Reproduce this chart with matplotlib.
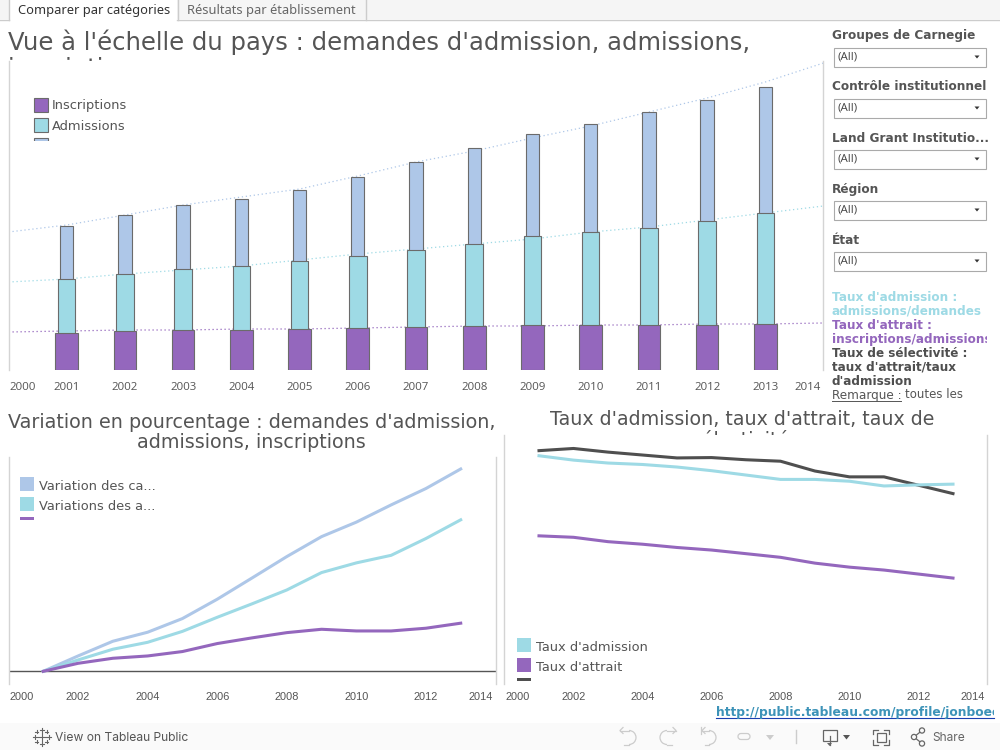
import matplotlib
matplotlib.use('Agg')
from matplotlib import pyplot as plt
from matplotlib.patches import Rectangle, Arc, Circle, FancyBboxPatch
from matplotlib.transforms import Bbox, TransformedBbox

years = [2001, 2002, 2003, 2004, 2005, 2006, 2007, 2008, 2009, 2010, 2011, 2012, 2013]
trend_years = [2000, 2001, 2002, 2003, 2004, 2005, 2006, 2007, 2008, 2009, 2010, 2011, 2012, 2013, 2014]

# haut : valeurs absolues (echelle relative, pas d'axe dans l'original)
inscriptions = [37, 39, 40, 40, 41, 42, 43, 44, 45, 45, 45, 45, 46]
admissions = [91, 96, 101, 104, 109, 114, 120, 126, 134, 138, 142, 149, 157]
demandes = [144, 155, 165, 171, 180, 193, 208, 222, 236, 246, 258, 270, 283]
trend_insc = [38, 39, 40, 40, 41, 41, 42, 43, 44, 44, 45, 45, 46, 46, 47]
trend_adm = [88, 91, 96, 100, 104, 110, 116, 121, 126, 131, 138, 143, 150, 157, 164]
trend_dem = [138, 145, 155, 165, 173, 181, 194, 208, 219, 232, 244, 258, 272, 288, 307]

# bas gauche : variation en pourcentage
var_dem = [0, .073, .143, .186, .251, .343, .444, .546, .641, .710, .792, .870, .963]
var_adm = [0, .054, .105, .138, .190, .257, .321, .387, .470, .516, .552, .632, .721]
var_insc = [0, .038, .062, .073, .094, .132, .159, .184, .200, .192, .192, .205, .229]

# bas droite : taux
taux_adm = [.627, .615, .607, .603, .596, .586, .574, .562, .562, .557, .544, .547, .549]
taux_att = [.407, .403, .391, .384, .375, .368, .358, .348, .332, .321, .313, .302, .291]
taux_sel = [.641, .647, .637, .629, .621, .622, .616, .612, .585, .569, .569, .546, .523]

BLUE = '#AEC7E8'
TEAL = '#9EDAE5'
PURPLE = '#9467BD'
DARK = '#4F4F4F'
GREY = '#555555'
RULE = '#D4D4D4'
ICON_OFF = '#CCCCCC'
ICON_ON = '#666666'
W, H = 1000, 750


def px(v):
    return v * 0.72


def make_axes(x0, y0, x1, y1):
    ax = fig.add_axes([x0 / W, 1 - y1 / H, (x1 - x0) / W, (y1 - y0) / H])
    ax.set_facecolor('none')
    for s in ['top', 'bottom']:
        ax.spines[s].set_visible(False)
    for s in ['left', 'right']:
        ax.spines[s].set_color(RULE)
        ax.spines[s].set_linewidth(1)
    ax.set_yticks([])
    ax.tick_params(axis='x', length=0)
    ax.set_xlim(2000, 2014)
    return ax


def label(x, y, s, size, color=GREY, clip=None, **kw):
    t = over.text(x, y, s, fontsize=px(size), color=color, va='baseline', **kw)
    if clip is not None:
        t.set_clip_on(True)
        t.set_clip_box(TransformedBbox(Bbox([[clip[0], clip[1]], [clip[2], clip[3]]]), over.transData))
    return t


def swatch(x, y, color, clip_y=None, edge=None):
    r = Rectangle((x, y), 14, 14, facecolor=color, edgecolor=edge or 'none', linewidth=0.8)
    over.add_patch(r)
    if clip_y is not None:
        r.set_clip_path(Rectangle((0, 0), W, clip_y, transform=over.transData))


def back_arrow(x_tip, x_arc, x_end, side):
    # fleche annuler / retablir : trait, demi-cercle, retour
    over.plot([x_tip, x_arc], [730.5, 730.5], color=ICON_OFF, lw=0.9)
    over.plot([x_tip + 3 * side, x_tip, x_tip + 3 * side], [727.5, 730.5, 733.5], color=ICON_OFF, lw=0.9)
    over.add_patch(Arc((x_arc, 737.5), 14, 14, theta1=-90 if side > 0 else 90, theta2=90 if side > 0 else 270,
                       color=ICON_OFF, lw=0.9))
    over.plot([x_arc, x_end], [744.5, 744.5], color=ICON_OFF, lw=0.9)


fig = plt.figure(figsize=(10, 7.5), dpi=100, facecolor='white')

# graphique du haut
ax1 = make_axes(8.5, 61, 823.5, 370)
ax1.set_ylim(0, 309)
ax1.plot(trend_years, trend_dem, color=BLUE, lw=0.9, ls=(0, (1, 2.2)), zorder=1)
ax1.plot(trend_years, trend_adm, color=TEAL, lw=0.9, ls=(0, (1, 2.2)), zorder=1)
ax1.plot(trend_years, trend_insc, color=PURPLE, lw=0.9, ls=(0, (1, 2.2)), zorder=1)
ax1.bar(years, demandes, width=0.23, color=BLUE, edgecolor='#6B6B6B', linewidth=0.8, zorder=2)
ax1.bar(years, admissions, width=0.30, color=TEAL, edgecolor='#6B6B6B', linewidth=0.8, zorder=3)
ax1.bar(years, inscriptions, width=0.39, color=PURPLE, edgecolor='#6B6B6B', linewidth=0.8, zorder=4)
ax1.set_xticks(years)
ax1.set_xticklabels(years, fontsize=px(11.5), color=GREY, fontfamily='Open Sans')
ax1.tick_params(axis='x', pad=8.9)

# variation
ax2 = make_axes(8.5, 457, 495.5, 684)
ax2.set_ylim(-0.0605, 1.02)
ax2.axhline(0, color=GREY, lw=1, zorder=1)
ax2.plot(years, var_dem, color=BLUE, lw=2.2, zorder=2)
ax2.plot(years, var_adm, color=TEAL, lw=2.2, zorder=3)
ax2.plot(years, var_insc, color=PURPLE, lw=2.2, zorder=4)

# taux
ax3 = make_axes(504.5, 435, 987.5, 684)
ax3.set_ylim(0, 0.684)
ax3.plot(years, taux_sel, color=DARK, lw=2.2, zorder=2)
ax3.plot(years, taux_adm, color=TEAL, lw=2.2, zorder=3)
ax3.plot(years, taux_att, color=PURPLE, lw=2.2, zorder=4)

for ax in [ax2, ax3]:
    ax.set_xticks([2002, 2004, 2006, 2008, 2010, 2012])
    ax.set_xticklabels([2002, 2004, 2006, 2008, 2010, 2012], fontsize=px(11), color=GREY, fontfamily='Liberation Sans')
    ax.tick_params(axis='x', pad=5.7)

# calque en pixels pour le reste de la page
over = fig.add_axes([0, 0, 1, 1], zorder=10)
over.set_xlim(0, W)
over.set_ylim(H, 0)
over.axis('off')

# onglets
over.add_patch(Rectangle((0, 0), W, 19, facecolor='#F5F5F5', edgecolor='none'))
over.add_patch(Rectangle((9, 0), 168, 20, facecolor='white', edgecolor='none'))
over.plot([0, 9], [19.5, 19.5], color='#CCCCCC', lw=1)
over.plot([177, W], [19.5, 19.5], color='#CCCCCC', lw=1)
for x in [8.5, 177.5, 365.5]:
    over.plot([x, x], [0, 19.5], color='#CCCCCC', lw=1)
label(18, 14, 'Comparer par catégories', 12.9, color='#333333', fontfamily='Noto Sans')
label(187, 14, 'Résultats par établissement', 12.9, color='#666666', fontfamily='Noto Sans')

# titres, coupes comme dans l'original
label(8, 50, "Vue à l'échelle du pays : demandes d'admission, admissions,", 24.25)
label(8, 76, 'inscriptions', 24.25, clip=(0, 0, 823, 61))
label(251.5, 428.5, "Variation en pourcentage : demandes d'admission,", 19.2, ha='center')
label(251.5, 447.5, 'admissions, inscriptions', 19.2, ha='center')
label(742, 425, "Taux d'admission, taux d'attrait, taux de", 19, ha='center')
label(742, 446, 'sélectivité', 19, ha='center', clip=(500, 400, 990, 435))

# annees aux extremites
label(23, 390, '2000', 11.5, ha='center', fontfamily='Open Sans')
label(808, 390, '2014', 11.5, ha='center', fontfamily='Open Sans')
label(22, 700, '2000', 11, ha='center', fontfamily='Liberation Sans')
label(481, 700, '2014', 11, ha='center', fontfamily='Liberation Sans')
label(518, 700, '2000', 11, ha='center', fontfamily='Liberation Sans')
label(973, 700, '2014', 11, ha='center', fontfamily='Liberation Sans')

# legendes
swatch(33.5, 97.5, PURPLE, edge='#6B6B6B')
swatch(33.5, 117.5, TEAL, edge='#6B6B6B')
swatch(33.5, 137.5, BLUE, clip_y=141, edge='#6B6B6B')
label(52, 109.5, 'Inscriptions', 13)
label(52, 129.5, 'Admissions', 13)
label(52, 151, 'Demandes', 13, clip=(0, 0, 200, 141))

swatch(20, 477, BLUE)
swatch(20, 497, TEAL)
swatch(20, 517, PURPLE, clip_y=520)
label(39, 490, 'Variation des ca...', 13)
label(39, 510, 'Variations des a...', 13)
label(39, 529.5, 'Variations des i...', 13, clip=(0, 0, 200, 520))

swatch(517, 638, TEAL)
swatch(517, 658, PURPLE)
swatch(517, 678, DARK, clip_y=681)
label(536, 651, "Taux d'admission", 13)
label(536, 671, "Taux d'attrait", 13)
label(536, 691, 'Taux de sélectivité', 13, clip=(500, 0, 700, 680.5))

# filtres
filters = ['Groupes de Carnegie', 'Contrôle institutionnel', 'Land Grant Institutio...', 'Région', 'État']
for i, name in enumerate(filters):
    top = 47 + 51 * i
    label(832, top - 7.5, name, 12.1, fontweight='bold')
    over.add_patch(Rectangle((833.5, top + 0.5), 152, 19, facecolor='white', edgecolor='#AAAAAA', linewidth=0.8))
    label(837, top + 12.5, '(All)', 11.5, color='#444444', fontfamily='Open Sans')
    over.fill([974.5, 979.5, 977], [top + 8.5, top + 8.5, top + 11.5], color='#333333', lw=0)

# notes
note_clip = (825, 280, 987, 402)
label(832, 301, "Taux d'admission :", 12, color=TEAL, fontweight='bold', clip=note_clip)
label(832, 315, 'admissions/demandes', 12, color=TEAL, fontweight='bold', clip=note_clip)
label(832, 329, "Taux d'attrait :", 12, color=PURPLE, fontweight='bold', clip=note_clip)
label(832, 343, 'inscriptions/admissions', 12, color=PURPLE, fontweight='bold', clip=note_clip)
label(832, 357, 'Taux de sélectivité :', 12, color=DARK, fontweight='bold', clip=note_clip)
label(832, 371, "taux d'attrait/taux", 12, color=DARK, fontweight='bold', clip=note_clip)
label(832, 385, "d'admission", 12, color=DARK, fontweight='bold', clip=note_clip)
label(832, 398.5, 'Remarque :', 12, clip=note_clip)
label(905, 398.5, 'toutes les', 11.8, clip=note_clip)
over.plot([832, 901], [400.5, 400.5], color=GREY, lw=0.7)

# lien
label(716, 716, 'http://public.tableau.com/profile/jonboec', 12.2, color='#3D93B8', fontweight='bold', clip=(700, 700, 994, 723))
over.plot([716, 994], [717.5, 717.5], color='#1A3FB0', lw=0.8)

# barre du bas
over.add_patch(Rectangle((0, 723), W, 27, facecolor='#FAFAFA', edgecolor='none'))
label(55, 741, 'View on Tableau Public', 12.1, color='#555555', fontfamily='Inter')
label(932, 741, 'Share', 12, color=ICON_ON, fontfamily='Inter')

# logo tableau
for dx, dy, r in [(0, 0, 4), (-7, 0, 2), (7, 0, 2), (0, -7, 2), (0, 7, 2),
                  (-5, -5, 1.3), (5, -5, 1.3), (-5, 5, 1.3), (5, 5, 1.3)]:
    over.plot([41.5 + dx - r, 41.5 + dx + r], [736.5 + dy, 736.5 + dy], color=ICON_ON, lw=0.8)
    over.plot([41.5 + dx, 41.5 + dx], [736.5 + dy - r, 736.5 + dy + r], color=ICON_ON, lw=0.8)

# annuler, retablir, retour, actualiser
back_arrow(620, 629, 624, 1)
back_arrow(676, 667, 672, -1)
back_arrow(702, 709, 705, 1)
over.plot([700.5, 700.5], [727, 734], color=ICON_OFF, lw=0.9)
over.add_patch(FancyBboxPatch((738, 733.5), 12, 6, boxstyle='round,pad=0,rounding_size=3',
                              facecolor='none', edgecolor=ICON_OFF, lw=0.9))
over.fill([766, 774, 770], [735, 735, 740], color=ICON_OFF, lw=0)
over.plot([795.5, 795.5], [730, 743], color=ICON_OFF, lw=1)

# telecharger, plein ecran, partager
over.add_patch(Rectangle((822.5, 729.5), 14, 11, facecolor='none', edgecolor=ICON_ON, lw=0.9))
over.plot([829.5, 829.5], [736, 745], color=ICON_ON, lw=0.9)
over.fill([827, 832, 829.5], [743, 743, 746], color=ICON_ON, lw=0)
over.fill([843, 850, 846.5], [735, 735, 739.5], color=GREY, lw=0)
over.add_patch(Rectangle((876.5, 732.5), 9, 9, facecolor='none', edgecolor=ICON_ON, lw=0.9))
for xs, ys in [([873, 873, 878], [734, 729.5, 729.5]), ([884, 889, 889], [729.5, 729.5, 734]),
               ([873, 873, 878], [740, 744.5, 744.5]), ([884, 889, 889], [744.5, 744.5, 740])]:
    over.plot(xs, ys, color=ICON_ON, lw=0.9)
over.plot([922, 914, 922], [730.5, 737, 743.5], color=ICON_ON, lw=0.9)
for cx, cy in [(922, 730.5), (914, 737), (922, 743.5)]:
    over.add_patch(Circle((cx, cy), 2.6, facecolor='#FAFAFA', edgecolor=ICON_ON, lw=0.9, zorder=3))

fig.savefig('out.png', dpi=100)
